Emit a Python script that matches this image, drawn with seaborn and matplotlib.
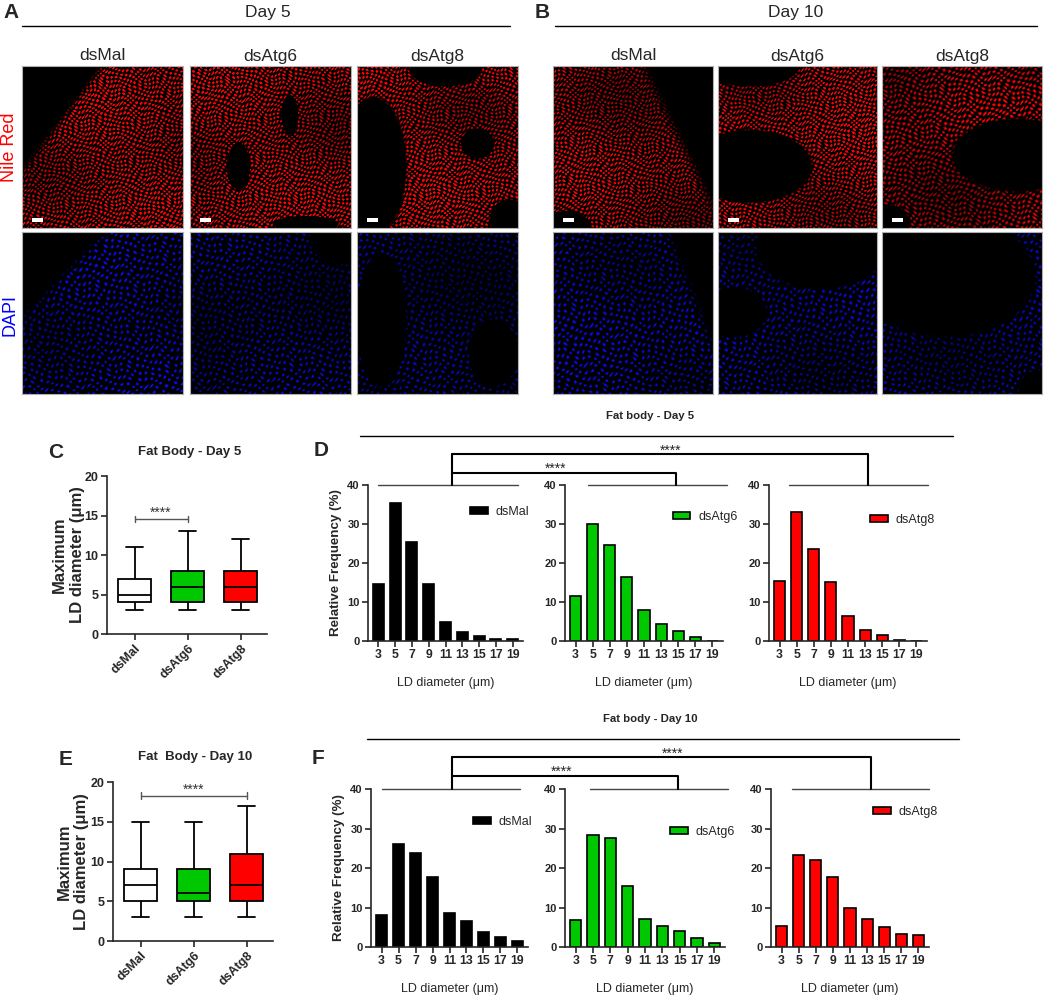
import numpy as np
import pandas as pd
import matplotlib
matplotlib.use("Agg")
import matplotlib.pyplot as plt
import seaborn as sns
from matplotlib.lines import Line2D
from matplotlib.patches import Patch, Rectangle

# ---- data ----
groups = ["dsMal", "dsAtg6", "dsAtg8"]
box_colors = ["#ffffff", "#00c800", "#ff0000"]

# five-number summaries (min, q1, median, q3, max) of maximum LD diameter
day5_mal = [3, 4, 5, 7, 11]
day5_atg6 = [3, 4, 6, 8, 13]
day5_atg8 = [3, 4, 6, 8, 12]
day10_mal = [3, 5, 7, 9, 15]
day10_atg6 = [3, 5, 6, 9, 15]
day10_atg8 = [3, 5, 7, 11, 17]

diam_bins = ["3", "5", "7", "9", "11", "13", "15", "17", "19"]
freq5_mal = [14.7, 35.3, 25.4, 14.5, 4.8, 2.4, 1.2, 0.4, 0.4]
freq5_atg6 = [11.5, 30.0, 24.7, 16.4, 7.9, 4.4, 2.5, 0.9, 0.0]
freq5_atg8 = [15.3, 33.1, 23.7, 15.2, 6.3, 2.9, 1.6, 0.3, 0.0]
freq10_mal = [8.1, 26.2, 23.9, 17.8, 8.6, 6.6, 3.7, 2.5, 1.4]
freq10_atg6 = [6.8, 28.3, 27.7, 15.5, 7.2, 5.2, 4.1, 2.4, 0.9]
freq10_atg8 = [5.4, 23.3, 21.9, 17.6, 10.0, 7.1, 5.1, 3.4, 3.0]

sns.set_theme(style="ticks")
plt.rcParams["font.family"] = ["Liberation Sans", "DejaVu Sans"]
plt.rcParams["axes.linewidth"] = 1.2

W, H = 1052, 996
fig = plt.figure(figsize=(W / 100, H / 100), dpi=100)


def box(x0, y0, x1, y1):
    return [x0 / W, 1 - y1 / H, (x1 - x0) / W, (y1 - y0) / H]


def ftext(x, y, s, **kw):
    fig.text(x / W, 1 - y / H, s, **kw)


def fline(xs, ys, color="black", lw=1.0):
    fig.add_artist(Line2D([x / W for x in xs], [1 - y / H for y in ys],
                          transform=fig.transFigure, color=color, lw=lw))


# ---- microscopy panels (drawn as stylised textures) ----
def ell(u, v, cx, cy, rx, ry):
    return np.sqrt(((u - cx) / rx) ** 2 + ((v - cy) / ry) ** 2) - 1


def tissue(h, w, fields, rgb, period=4.0, gain=1.0, phase=0.0, sharp=1.0):
    v, u = np.mgrid[0:1:h * 1j, 0:1:w * 1j]
    yy, xx = v * h, u * w
    xw = xx + 1.8 * np.sin(yy / 6.3 + phase) + 1.2 * np.sin(yy / 2.9 + xx / 7.7)
    yw = yy + 1.8 * np.sin(xx / 5.1 + 2 * phase) + 1.2 * np.sin(xx / 3.3 - yy / 8.1)
    a = 2 * np.pi * (xw + 0.5 * yw) / period
    b = 2 * np.pi * (yw - 0.3 * xw) / period
    dots = np.clip((np.cos(a) + np.cos(b)) / 2, 0, 1) ** sharp
    f = np.ones_like(u)
    for fn in fields:
        f = np.minimum(f, fn(u, v))
    mask = np.clip(f * 14, 0, 1)
    light = 0.75 + 0.25 * np.sin(3 * u + 2 * v + phase) * np.cos(5 * v - 2 * u)
    inten = np.clip(dots * mask * gain * light * 1.6, 0, 1)
    return np.dstack([inten * rgb[0], inten * rgb[1], inten * rgb[2]])


red = (1.0, 0.0, 0.0)
blue = (0.05, 0.05, 1.0)
panels_top = [
    [lambda u, v: v - (0.62 - 1.3 * u)],
    [lambda u, v: ell(u, v, 0.3, 0.62, 0.07, 0.14), lambda u, v: ell(u, v, 0.62, 0.3, 0.05, 0.12),
     lambda u, v: ell(u, v, 0.72, 0.98, 0.2, 0.05)],
    [lambda u, v: ell(u, v, 0.1, 0.62, 0.2, 0.42), lambda u, v: ell(u, v, 0.55, 0.02, 0.22, 0.1),
     lambda u, v: ell(u, v, 0.75, 0.48, 0.1, 0.09), lambda u, v: ell(u, v, 0.95, 0.95, 0.12, 0.12)],
    [lambda u, v: (0.6 + 0.5 * v) - u, lambda u, v: ell(u, v, 0.08, 1.0, 0.15, 0.1)],
    [lambda u, v: ell(u, v, 0.2, 0.0, 0.3, 0.12), lambda u, v: ell(u, v, 0.2, 0.62, 0.38, 0.22)],
    [lambda u, v: ell(u, v, 0.85, 0.55, 0.4, 0.22), lambda u, v: ell(u, v, 0.02, 0.98, 0.15, 0.12)],
]
panels_bot = [
    [lambda u, v: v - (0.5 - 1.0 * u)],
    [lambda u, v: ell(u, v, 0.95, 0.05, 0.2, 0.15)],
    [lambda u, v: ell(u, v, 0.15, 0.55, 0.15, 0.4), lambda u, v: ell(u, v, 0.85, 0.75, 0.15, 0.2)],
    [lambda u, v: (0.75 + 0.4 * v) - u],
    [lambda u, v: ell(u, v, 0.65, 0.1, 0.4, 0.25), lambda u, v: ell(u, v, 0.1, 0.5, 0.2, 0.15)],
    [lambda u, v: ell(u, v, 0.4, 0.28, 0.55, 0.36), lambda u, v: ell(u, v, 0.98, 0.98, 0.12, 0.12)],
]
col_x = [(22, 183), (190, 351), (357, 518), (553, 713), (718, 877), (882, 1042)]
gains_top = [1.0, 0.95, 1.0, 0.85, 1.0, 0.75]
gains_bot = [0.9, 0.65, 0.6, 0.9, 0.8, 0.75]
for i, (x0, x1) in enumerate(col_x):
    for (y0, y1, fields, rgb, per, g, sh) in [
        (66, 228, panels_top[i], red, 4.4 + 0.8 * (i == 5), gains_top[i], 0.7),
        (232, 394, panels_bot[i], blue, 6.5, gains_bot[i], 1.8),
    ]:
        ax = fig.add_axes(box(x0, y0, x1, y1))
        ax.imshow(tissue(y1 - y0, x1 - x0, fields, rgb, period=per, gain=g, phase=i, sharp=sh),
                  aspect="auto", interpolation="bilinear")
        ax.set_xticks([])
        ax.set_yticks([])
        for sp in ax.spines.values():
            sp.set_color("#b0b0b0")
            sp.set_linewidth(0.8)
        if rgb is red:
            ax.add_patch(Rectangle((0.065, 0.035), 0.065, 0.028, transform=ax.transAxes,
                                   color="white", lw=0))
    ftext((x0 + x1) / 2, 56, groups[i % 3], ha="center", va="center", fontsize=12.5)

ftext(11, 12, "A", ha="center", va="center", fontsize=15, fontweight="bold")
ftext(542, 12, "B", ha="center", va="center", fontsize=15, fontweight="bold")
ftext(268, 12, "Day 5", ha="center", va="center", fontsize=12.5)
ftext(796, 12, "Day 10", ha="center", va="center", fontsize=12.5)
fline([22, 510], [26, 26], lw=1.0)
fline([555, 1037], [26, 26], lw=1.0)
ftext(10, 147, "Nile Red", ha="center", va="center", rotation=90, fontsize=13, color="#ff0000")
ftext(10, 315, "DAPI", ha="center", va="center", rotation=90, fontsize=13, color="#0000ff")


# ---- box plots ----
def draw_box(rect, values, title, title_xy, bracket, ylab_pad):
    ax = fig.add_axes(box(*rect))
    df = pd.DataFrame({"group": np.repeat(groups, 5), "value": np.concatenate(values)})
    sns.boxplot(data=df, x="group", y="value", hue="group", palette=box_colors,
                whis=(0, 100), width=0.63, linewidth=1.3, linecolor="black",
                saturation=1, legend=False, ax=ax)
    ax.set_xlim(-0.52, 2.5)
    ax.set_ylim(0, 20)
    ax.set_yticks([0, 5, 10, 15, 20])
    ax.set_xlabel("")
    ax.set_ylabel("Maximum\nLD diameter (μm)", fontsize=12, fontweight="bold", labelpad=ylab_pad)
    ax.tick_params(axis="y", labelsize=9, width=1.2, length=4, pad=2)
    ax.tick_params(axis="x", labelsize=9, width=1.2, length=4, pad=2)
    plt.setp(ax.get_yticklabels(), fontweight="bold")
    plt.setp(ax.get_xticklabels(), fontweight="bold", rotation=45, ha="right",
             rotation_mode="anchor")
    sns.despine(ax=ax)
    x0, x1, yb = bracket
    ax.plot([x0, x1], [yb, yb], color="#555555", lw=1.0)
    for xe in (x0, x1):
        ax.plot([xe, xe], [yb - 0.4, yb + 0.4], color="#555555", lw=1.0)
    ax.text((x0 + x1) / 2, yb - 0.1, "****", ha="center", va="bottom", fontsize=10, color="#333333")
    ftext(title_xy[0], title_xy[1], title, ha="center", va="center", fontsize=9.5, fontweight="bold")


draw_box((107, 476, 267, 634), [day5_mal, day5_atg6, day5_atg8], "Fat Body - Day 5",
         (190, 452), (0, 1, 14.6), 0)
draw_box((113, 782, 273, 941), [day10_mal, day10_atg6, day10_atg8], "Fat  Body - Day 10",
         (195, 757), (0, 2, 18.3), 1)
ftext(56, 452, "C", ha="center", va="center", fontsize=15, fontweight="bold")
ftext(66, 759, "E", ha="center", va="center", fontsize=15, fontweight="bold")


# ---- relative frequency histograms ----
def draw_hist(rect, vals, color, label, leg_xy, topline, ylabel):
    ax = fig.add_axes(box(*rect))
    sns.barplot(x=diam_bins, y=vals, color=color, saturation=1, edgecolor="black",
                linewidth=1.2, width=0.65, ax=ax)
    ax.set_xlim(-0.62, 8.62)
    ax.set_ylim(0, 40)
    ax.set_yticks([0, 10, 20, 30, 40])
    ax.tick_params(axis="y", labelsize=8, width=1.2, length=4, pad=2)
    ax.tick_params(axis="x", labelsize=8.8, width=1.2, length=4, pad=2)
    plt.setp(ax.get_yticklabels(), fontweight="bold")
    plt.setp(ax.get_xticklabels(), fontweight="bold")
    ax.set_xlabel("LD diameter (μm)", fontsize=9, labelpad=11)
    if ylabel:
        ax.set_ylabel("Relative Frequency (%)", fontsize=9.6, fontweight="bold", labelpad=4)
    sns.despine(ax=ax)
    handle = Patch(facecolor=color, edgecolor="black", linewidth=1.2, label=label)
    ax.legend(handles=[handle], loc="center left", frameon=False, fontsize=9,
              bbox_to_anchor=(leg_xy[0] / W, 1 - leg_xy[1] / H), bbox_transform=fig.transFigure,
              borderpad=0, borderaxespad=0, handlelength=1.4, handleheight=0.55,
              handletextpad=0.65)
    fline(topline, [rect[1], rect[1]], color="#444444", lw=1.0)


draw_hist((368, 485, 523, 641), freq5_mal, "black", "dsMal", (470, 512), (378, 518), True)
draw_hist((565, 485, 723, 641), freq5_atg6, "#00c800", "dsAtg6", (673, 517), (588, 727), False)
draw_hist((769, 485, 927, 641), freq5_atg8, "#ff0000", "dsAtg8", (870, 520), (789, 928), False)
draw_hist((371, 789, 528, 947), freq10_mal, "black", "dsMal", (473, 822), (382, 520), True)
draw_hist((565, 789, 725, 947), freq10_atg6, "#00c800", "dsAtg6", (670, 832), (590, 728), False)
draw_hist((771, 789, 929, 947), freq10_atg8, "#ff0000", "dsAtg8", (873, 812), (792, 929), False)

ftext(321, 450, "D", ha="center", va="center", fontsize=15, fontweight="bold")
ftext(318, 758, "F", ha="center", va="center", fontsize=15, fontweight="bold")

# comparison brackets above histograms
for (ytitle, title, yline, xl0, xl1, yo, yi, xo, xi, ytop, so, si) in [
    (416, "Fat body - Day 5", 436, 360, 953, 454, 473, 868, 676, 485, (671, 449), (556, 467)),
    (719, "Fat body - Day 10", 739, 367, 959, 757, 776, 871, 678, 789, (673, 752), (562, 770)),
]:
    ftext(650, ytitle, title, ha="center", va="center", fontsize=8.2, fontweight="bold")
    fline([xl0, xl1], [yline, yline], lw=1.0)
    fline([452, xo, xo], [yo, yo, ytop], lw=1.5)
    fline([452, xi, xi], [yi, yi, ytop], lw=1.5)
    fline([452, 452], [yo, ytop], lw=1.5)
    ftext(so[0], so[1] + 2, "****", ha="center", va="center", fontsize=10)
    ftext(si[0], si[1] + 2, "****", ha="center", va="center", fontsize=10)

fig.savefig("out.png", dpi=100)
